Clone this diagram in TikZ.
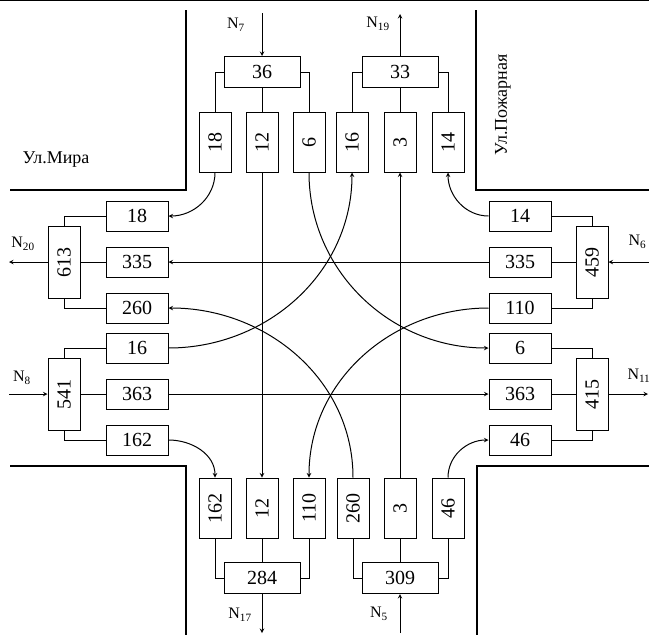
\documentclass[tikz,border=0pt]{standalone}
\usepackage{fontspec}
\setmainfont{Liberation Serif}

\begin{document}
\begin{tikzpicture}[>=stealth,x=1pt,y=-1pt,line width=1pt,
    hlane/.style={draw,minimum width=62pt,minimum height=30pt,inner sep=0pt,font=\fontsize{20}{23}\selectfont},
    vlane/.style={draw,minimum width=32pt,minimum height=60pt,inner sep=0pt,font=\fontsize{20}{23}\selectfont},
    hsum/.style={draw,minimum width=76pt,minimum height=31pt,inner sep=0pt,font=\fontsize{20}{23}\selectfont},
    vsum/.style={draw,minimum width=32pt,minimum height=72pt,inner sep=0pt,font=\fontsize{20}{23}\selectfont},
    street/.style={line width=2.8pt},
    flowlbl/.style={font=\fontsize{16}{19}\selectfont,inner sep=0pt},
    streetlbl/.style={font=\fontsize{18}{21}\selectfont,inner sep=0pt}]
  \useasboundingbox (0,0) rectangle (649,635);
  \draw[line width=1.4pt] (0,0.7) -- (649,0.7);

  % street corners
  \draw[street] (186,10) -- (186,190) -- (10,190);
  \draw[street] (476,10) -- (476,190) -- (649,190);
  \draw[street] (10,466) -- (186,466) -- (186,635);
  \draw[street] (649,466) -- (477,466) -- (477,635);
  \node[streetlbl] (mira) at (56,160) {Ул.Мира};
  \node[streetlbl,rotate=90] (pozh) at (503,105) {Ул.Пожарная};

  % north approach
  \node[hsum] (in7) at (262,72) {36};
  \node[vlane] (a18) at (215,142) {\rotatebox{90}{18}};
  \node[vlane] (a12) at (262,142) {\rotatebox{90}{12}};
  \node[vlane] (a6) at (309,142) {\rotatebox{90}{6}};
  \node[hsum] (out19) at (400,72) {33};
  \node[vlane] (b16) at (352,142) {\rotatebox{90}{16}};
  \node[vlane] (b3) at (400,142) {\rotatebox{90}{3}};
  \node[vlane] (b14) at (448,142) {\rotatebox{90}{14}};

  % west approach
  \node[vsum] (out20) at (64,262) {\rotatebox{90}{613}};
  \node[hlane] (c18) at (137,216) {18};
  \node[hlane] (c335) at (137,262) {335};
  \node[hlane] (c260) at (137,308) {260};
  \node[vsum] (in8) at (64,394) {\rotatebox{90}{541}};
  \node[hlane] (d16) at (137,348) {16};
  \node[hlane] (d363) at (137,394) {363};
  \node[hlane] (d162) at (137,440) {162};

  % south approach
  \node[hsum] (out17) at (262,578) {284};
  \node[vlane] (e162) at (215,508) {\rotatebox{90}{162}};
  \node[vlane] (e12) at (262,508) {\rotatebox{90}{12}};
  \node[vlane] (e110) at (309,508) {\rotatebox{90}{110}};
  \node[hsum] (in5) at (400,578) {309};
  \node[vlane] (f260) at (353,508) {\rotatebox{90}{260}};
  \node[vlane] (f3) at (400,508) {\rotatebox{90}{3}};
  \node[vlane] (f46) at (448,508) {\rotatebox{90}{46}};

  % east approach
  \node[vsum] (in6) at (592,262) {\rotatebox{90}{459}};
  \node[hlane] (g14) at (520,216) {14};
  \node[hlane] (g335) at (520,262) {335};
  \node[hlane] (g110) at (520,308) {110};
  \node[vsum] (out11) at (592,394) {\rotatebox{90}{415}};
  \node[hlane] (h6) at (520,348) {6};
  \node[hlane] (h363) at (520,394) {363};
  \node[hlane] (h46) at (520,440) {46};

  % splitting and merging
  \draw (in7.west) -| (a18.north);  \draw (in7.south) -- (a12.north);  \draw (in7.east) -| (a6.north);
  \draw (b16.north) |- (out19.west);  \draw (b3.north) -- (out19.south);  \draw (b14.north) |- (out19.east);
  \draw (c18.west) -| (out20.north);  \draw (c335.west) -- (out20.east);  \draw (c260.west) -| (out20.south);
  \draw (in8.north) |- (d16.west);  \draw (in8.east) -- (d363.west);  \draw (in8.south) |- (d162.west);
  \draw (e162.south) |- (out17.west);  \draw (e12.south) -- (out17.north);  \draw (e110.south) |- (out17.east);
  \draw (in5.west) -| (f260.south);  \draw (in5.north) -- (f3.south);  \draw (in5.east) -| (f46.south);
  \draw (in6.north) |- (g14.east);  \draw (in6.west) -- (g335.east);  \draw (in6.south) |- (g110.east);
  \draw (h6.east) -| (out11.north);  \draw (h363.east) -- (out11.west);  \draw (h46.east) -| (out11.south);

  % movements through the crossing
  \draw[->] (a18.south) to[out=-90,in=0] (c18.east);
  \draw[->] (a12.south) -- (e12.north);
  \draw[->] (a6.south) to[out=-90,in=180] (h6.west);
  \draw[->] (g14.west) to[out=180,in=-90] (b14.south);
  \draw[->] (g335.west) -- (c335.east);
  \draw[->] (g110.west) to[out=180,in=90] (e110.north);
  \draw[->] (d16.east) to[out=0,in=-90] (b16.south);
  \draw[->] (d363.east) -- (h363.west);
  \draw[->] (d162.east) to[out=0,in=90] (e162.north);
  \draw[->] (f260.north) to[out=90,in=0] (c260.east);
  \draw[->] (f3.north) -- (b3.south);
  \draw[->] (f46.north) to[out=90,in=180] (h46.west);

  % flows in and out
  \coordinate (n7) at (262,13);  \coordinate (n19) at (400,14);
  \coordinate (n20) at (9,262);  \coordinate (n8) at (9,394);
  \coordinate (n17) at (262,633);  \coordinate (n5) at (400,633);
  \coordinate (n6) at (649,262);  \coordinate (n11) at (648,394);
  \draw[->] (n7) -- (in7.north);
  \draw[->] (out19.north) -- (n19);
  \draw[->] (out20.west) -- (n20);
  \draw[->] (n8) -- (in8.west);
  \draw[->] (out17.south) -- (n17);
  \draw[->] (n5) -- (in5.south);
  \draw[->] (n6) -- (in6.east);
  \draw[->] (out11.east) -- (n11);
  \node[flowlbl] (l7) at (236,25) {N\textsubscript{7}};
  \node[flowlbl] (l19) at (378,24) {N\textsubscript{19}};
  \node[flowlbl] (l20) at (23,244) {N\textsubscript{20}};
  \node[flowlbl] (l8) at (22,378) {N\textsubscript{8}};
  \node[flowlbl] (l17) at (240,615) {N\textsubscript{17}};
  \node[flowlbl] (l5) at (379,614) {N\textsubscript{5}};
  \node[flowlbl,anchor=west] (l6) at (628,242) {N\textsubscript{6}};
  \node[flowlbl,anchor=west] (l11) at (627,376) {N\textsubscript{11}};
\end{tikzpicture}
\end{document}
